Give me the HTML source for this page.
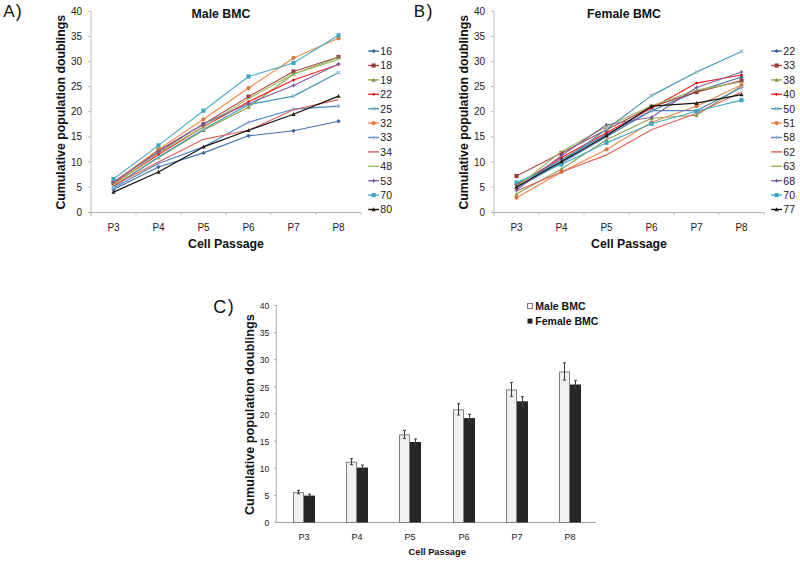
<!DOCTYPE html>
<html><head><meta charset="utf-8"><style>
html,body{margin:0;padding:0;background:#fff;}
body{width:800px;height:562px;overflow:hidden;}
svg{display:block;font-family:"Liberation Sans", sans-serif;}
.tl{font-size:10px;fill:#222;}
.xl{font-size:10px;fill:#1a1a1a;}
.tt{font-size:12.3px;font-weight:bold;fill:#111;}
.lg{font-size:10.5px;fill:#1a1a1a;}
.pl{font-size:17px;fill:#111;}
.pp{font-size:18px;fill:#111;}
.ctl{font-size:8.5px;fill:#222;}
.cxl{font-size:9px;fill:#1a1a1a;}
.ct{font-size:9.3px;font-weight:bold;fill:#111;}
.cyt{font-size:12.7px;font-weight:bold;fill:#111;}
.clg{font-size:10.5px;font-weight:bold;fill:#111;}
</style></head><body>
<svg width="800" height="562" viewBox="0 0 800 562">
<rect x="90.00" y="11" width="2" height="205" fill="#dedede"/>
<rect x="88.00" y="212" width="273.00" height="1" fill="#b2b2b2"/>
<rect x="88.00" y="211.70" width="3" height="1" fill="#b8b8b8"/>
<text x="82.00" y="215.80" text-anchor="end" class="tl">0</text>
<rect x="88.00" y="186.57" width="3" height="1" fill="#b8b8b8"/>
<text x="82.00" y="190.67" text-anchor="end" class="tl">5</text>
<rect x="88.00" y="161.45" width="3" height="1" fill="#b8b8b8"/>
<text x="82.00" y="165.55" text-anchor="end" class="tl">10</text>
<rect x="88.00" y="136.32" width="3" height="1" fill="#b8b8b8"/>
<text x="82.00" y="140.42" text-anchor="end" class="tl">15</text>
<rect x="88.00" y="111.20" width="3" height="1" fill="#b8b8b8"/>
<text x="82.00" y="115.30" text-anchor="end" class="tl">20</text>
<rect x="88.00" y="86.07" width="3" height="1" fill="#b8b8b8"/>
<text x="82.00" y="90.17" text-anchor="end" class="tl">25</text>
<rect x="88.00" y="60.95" width="3" height="1" fill="#b8b8b8"/>
<text x="82.00" y="65.05" text-anchor="end" class="tl">30</text>
<rect x="88.00" y="35.82" width="3" height="1" fill="#b8b8b8"/>
<text x="82.00" y="39.92" text-anchor="end" class="tl">35</text>
<rect x="88.00" y="10.70" width="3" height="1" fill="#b8b8b8"/>
<text x="82.00" y="14.80" text-anchor="end" class="tl">40</text>
<rect x="90.50" y="212" width="1" height="3" fill="#c0c0c0"/>
<rect x="135.50" y="212" width="1" height="3" fill="#c0c0c0"/>
<rect x="180.50" y="212" width="1" height="3" fill="#c0c0c0"/>
<rect x="225.50" y="212" width="1" height="3" fill="#c0c0c0"/>
<rect x="270.50" y="212" width="1" height="3" fill="#c0c0c0"/>
<rect x="315.50" y="212" width="1" height="3" fill="#c0c0c0"/>
<rect x="360.50" y="212" width="1" height="3" fill="#c0c0c0"/>
<text x="113.50" y="231" text-anchor="middle" class="xl">P3</text>
<text x="158.50" y="231" text-anchor="middle" class="xl">P4</text>
<text x="203.50" y="231" text-anchor="middle" class="xl">P5</text>
<text x="248.50" y="231" text-anchor="middle" class="xl">P6</text>
<text x="293.50" y="231" text-anchor="middle" class="xl">P7</text>
<text x="338.50" y="231" text-anchor="middle" class="xl">P8</text>
<text x="221.00" y="18.3" text-anchor="middle" class="tt">Male BMC</text>
<text x="226.00" y="248.2" text-anchor="middle" class="tt">Cell Passage</text>
<text transform="translate(64.60,112.20) rotate(-90)" text-anchor="middle" class="tt">Cumulative population doublings</text>
<polyline points="113.50,189.59 158.50,166.97 203.50,152.90 248.50,135.82 293.50,130.79 338.50,121.25" fill="none" stroke="#4572A7" stroke-width="1.15" stroke-linejoin="round"/>
<path d="M113.50 187.43L115.66 189.59L113.50 191.75L111.34 189.59Z" fill="#3b62a0"/>
<path d="M158.50 164.81L160.66 166.97L158.50 169.13L156.34 166.97Z" fill="#3b62a0"/>
<path d="M203.50 150.74L205.66 152.90L203.50 155.06L201.34 152.90Z" fill="#3b62a0"/>
<path d="M248.50 133.66L250.66 135.82L248.50 137.98L246.34 135.82Z" fill="#3b62a0"/>
<path d="M293.50 128.63L295.66 130.79L293.50 132.95L291.34 130.79Z" fill="#3b62a0"/>
<path d="M338.50 119.09L340.66 121.25L338.50 123.41L336.34 121.25Z" fill="#3b62a0"/>
<polyline points="113.50,183.05 158.50,150.39 203.50,124.26 248.50,96.62 293.50,71.50 338.50,56.93" fill="none" stroke="#AA4643" stroke-width="1.15" stroke-linejoin="round"/>
<rect x="111.43" y="180.98" width="4.14" height="4.14" fill="#9a3c3a"/>
<rect x="156.43" y="148.32" width="4.14" height="4.14" fill="#9a3c3a"/>
<rect x="201.43" y="122.19" width="4.14" height="4.14" fill="#9a3c3a"/>
<rect x="246.43" y="94.55" width="4.14" height="4.14" fill="#9a3c3a"/>
<rect x="291.43" y="69.43" width="4.14" height="4.14" fill="#9a3c3a"/>
<rect x="336.43" y="54.86" width="4.14" height="4.14" fill="#9a3c3a"/>
<polyline points="113.50,186.07 158.50,157.43 203.50,130.29 248.50,107.18 293.50,74.01 338.50,57.43" fill="none" stroke="#89A54E" stroke-width="1.15" stroke-linejoin="round"/>
<path d="M113.50 183.91L115.66 187.80L111.34 187.80Z" fill="#7e9a45"/>
<path d="M158.50 155.27L160.66 159.16L156.34 159.16Z" fill="#7e9a45"/>
<path d="M203.50 128.13L205.66 132.02L201.34 132.02Z" fill="#7e9a45"/>
<path d="M248.50 105.02L250.66 108.91L246.34 108.91Z" fill="#7e9a45"/>
<path d="M293.50 71.85L295.66 75.74L291.34 75.74Z" fill="#7e9a45"/>
<path d="M338.50 55.27L340.66 59.16L336.34 59.16Z" fill="#7e9a45"/>
<polyline points="113.50,184.06 158.50,154.41 203.50,126.77 248.50,101.65 293.50,80.04 338.50,64.46" fill="none" stroke="#FF2020" stroke-width="1.15" stroke-linejoin="round"/>
<path d="M113.50 182.44L115.12 184.06L113.50 185.68L111.88 184.06Z" fill="#d01010"/>
<path d="M158.50 152.79L160.12 154.41L158.50 156.03L156.88 154.41Z" fill="#d01010"/>
<path d="M203.50 125.15L205.12 126.77L203.50 128.39L201.88 126.77Z" fill="#d01010"/>
<path d="M248.50 100.03L250.12 101.65L248.50 103.27L246.88 101.65Z" fill="#d01010"/>
<path d="M293.50 78.42L295.12 80.04L293.50 81.66L291.88 80.04Z" fill="#d01010"/>
<path d="M338.50 62.84L340.12 64.46L338.50 66.08L336.88 64.46Z" fill="#d01010"/>
<polyline points="113.50,187.07 158.50,156.92 203.50,129.29 248.50,104.66 293.50,96.12 338.50,72.50" fill="none" stroke="#4596B0" stroke-width="1.15" stroke-linejoin="round"/>
<path d="M111.88 185.45L115.12 188.69M115.12 185.45L111.88 188.69" stroke="#8fbccc" stroke-width="1.2"/>
<path d="M156.88 155.30L160.12 158.54M160.12 155.30L156.88 158.54" stroke="#8fbccc" stroke-width="1.2"/>
<path d="M201.88 127.67L205.12 130.91M205.12 127.67L201.88 130.91" stroke="#8fbccc" stroke-width="1.2"/>
<path d="M246.88 103.04L250.12 106.28M250.12 103.04L246.88 106.28" stroke="#8fbccc" stroke-width="1.2"/>
<path d="M291.88 94.50L295.12 97.74M295.12 94.50L291.88 97.74" stroke="#8fbccc" stroke-width="1.2"/>
<path d="M336.88 70.88L340.12 74.12M340.12 70.88L336.88 74.12" stroke="#8fbccc" stroke-width="1.2"/>
<polyline points="113.50,182.55 158.50,149.39 203.50,119.24 248.50,88.08 293.50,57.93 338.50,38.33" fill="none" stroke="#EE8A45" stroke-width="1.15" stroke-linejoin="round"/>
<circle cx="113.50" cy="182.55" r="2.07" fill="#d8783a"/>
<circle cx="158.50" cy="149.39" r="2.07" fill="#d8783a"/>
<circle cx="203.50" cy="119.24" r="2.07" fill="#d8783a"/>
<circle cx="248.50" cy="88.08" r="2.07" fill="#d8783a"/>
<circle cx="293.50" cy="57.93" r="2.07" fill="#d8783a"/>
<circle cx="338.50" cy="38.33" r="2.07" fill="#d8783a"/>
<polyline points="113.50,188.08 158.50,163.46 203.50,146.88 248.50,122.25 293.50,109.19 338.50,106.17" fill="none" stroke="#4F82C8" stroke-width="1.15" stroke-linejoin="round"/>
<path d="M113.50 186.28L113.50 189.88M111.70 188.08L115.30 188.08" stroke="#86a9da" stroke-width="1.2"/>
<path d="M158.50 161.66L158.50 165.26M156.70 163.46L160.30 163.46" stroke="#86a9da" stroke-width="1.2"/>
<path d="M203.50 145.07L203.50 148.68M201.70 146.88L205.30 146.88" stroke="#86a9da" stroke-width="1.2"/>
<path d="M248.50 120.45L248.50 124.05M246.70 122.25L250.30 122.25" stroke="#86a9da" stroke-width="1.2"/>
<path d="M293.50 107.39L293.50 110.99M291.70 109.19L295.30 109.19" stroke="#86a9da" stroke-width="1.2"/>
<path d="M338.50 104.37L338.50 107.97M336.70 106.17L340.30 106.17" stroke="#86a9da" stroke-width="1.2"/>
<polyline points="113.50,185.57 158.50,161.95 203.50,139.34 248.50,130.29 293.50,109.69 338.50,99.64" fill="none" stroke="#E0605C" stroke-width="1.15" stroke-linejoin="round"/>






<polyline points="113.50,185.06 158.50,152.90 203.50,126.77 248.50,98.63 293.50,74.01 338.50,59.44" fill="none" stroke="#9BBB59" stroke-width="1.15" stroke-linejoin="round"/>






<polyline points="113.50,182.05 158.50,151.90 203.50,123.76 248.50,103.66 293.50,85.57 338.50,63.96" fill="none" stroke="#8064A2" stroke-width="1.15" stroke-linejoin="round"/>
<path d="M113.50 180.25L113.50 183.85M111.70 182.05L115.30 182.05" stroke="#7052a0" stroke-width="1.2"/>
<path d="M158.50 150.10L158.50 153.70M156.70 151.90L160.30 151.90" stroke="#7052a0" stroke-width="1.2"/>
<path d="M203.50 121.96L203.50 125.56M201.70 123.76L205.30 123.76" stroke="#7052a0" stroke-width="1.2"/>
<path d="M248.50 101.86L248.50 105.46M246.70 103.66L250.30 103.66" stroke="#7052a0" stroke-width="1.2"/>
<path d="M293.50 83.77L293.50 87.37M291.70 85.57L295.30 85.57" stroke="#7052a0" stroke-width="1.2"/>
<path d="M338.50 62.16L338.50 65.76M336.70 63.96L340.30 63.96" stroke="#7052a0" stroke-width="1.2"/>
<polyline points="113.50,179.03 158.50,145.37 203.50,110.69 248.50,76.52 293.50,62.96 338.50,35.32" fill="none" stroke="#4BACC6" stroke-width="1.15" stroke-linejoin="round"/>
<rect x="111.43" y="176.97" width="4.14" height="4.14" fill="#3fa6c2"/>
<rect x="156.43" y="143.30" width="4.14" height="4.14" fill="#3fa6c2"/>
<rect x="201.43" y="108.62" width="4.14" height="4.14" fill="#3fa6c2"/>
<rect x="246.43" y="74.45" width="4.14" height="4.14" fill="#3fa6c2"/>
<rect x="291.43" y="60.89" width="4.14" height="4.14" fill="#3fa6c2"/>
<rect x="336.43" y="33.25" width="4.14" height="4.14" fill="#3fa6c2"/>
<polyline points="113.50,192.10 158.50,172.00 203.50,146.88 248.50,130.29 293.50,114.21 338.50,96.12" fill="none" stroke="#111111" stroke-width="1.15" stroke-linejoin="round"/>
<path d="M113.50 189.94L115.66 193.83L111.34 193.83Z" fill="#302010"/>
<path d="M158.50 169.84L160.66 173.73L156.34 173.73Z" fill="#302010"/>
<path d="M203.50 144.72L205.66 148.60L201.34 148.60Z" fill="#302010"/>
<path d="M248.50 128.13L250.66 132.02L246.34 132.02Z" fill="#302010"/>
<path d="M293.50 112.05L295.66 115.94L291.34 115.94Z" fill="#302010"/>
<path d="M338.50 93.96L340.66 97.85L336.34 97.85Z" fill="#302010"/>
<rect x="368.20" y="50.40" width="10.8" height="1.4" fill="#4572A7"/>
<path d="M373.60 48.94L375.76 51.10L373.60 53.26L371.44 51.10Z" fill="#3b62a0"/>
<text x="380.30" y="55.00" class="lg">16</text>
<rect x="368.20" y="64.80" width="10.8" height="1.4" fill="#AA4643"/>
<rect x="371.53" y="63.43" width="4.14" height="4.14" fill="#9a3c3a"/>
<text x="380.30" y="69.40" class="lg">18</text>
<rect x="368.20" y="79.20" width="10.8" height="1.4" fill="#89A54E"/>
<path d="M373.60 77.74L375.76 81.63L371.44 81.63Z" fill="#7e9a45"/>
<text x="380.30" y="83.80" class="lg">19</text>
<rect x="368.20" y="93.60" width="10.8" height="1.4" fill="#FF2020"/>
<path d="M373.60 92.68L375.22 94.30L373.60 95.92L371.98 94.30Z" fill="#d01010"/>
<text x="380.30" y="98.20" class="lg">22</text>
<rect x="368.20" y="108.00" width="10.8" height="1.4" fill="#4596B0"/>
<path d="M371.98 107.08L375.22 110.32M375.22 107.08L371.98 110.32" stroke="#8fbccc" stroke-width="1.2"/>
<text x="380.30" y="112.60" class="lg">25</text>
<rect x="368.20" y="122.40" width="10.8" height="1.4" fill="#EE8A45"/>
<circle cx="373.60" cy="123.10" r="2.07" fill="#d8783a"/>
<text x="380.30" y="127.00" class="lg">32</text>
<rect x="368.20" y="136.80" width="10.8" height="1.4" fill="#4F82C8"/>
<path d="M373.60 135.70L373.60 139.30M371.80 137.50L375.40 137.50" stroke="#86a9da" stroke-width="1.2"/>
<text x="380.30" y="141.40" class="lg">33</text>
<rect x="368.20" y="151.20" width="10.8" height="1.4" fill="#E0605C"/>

<text x="380.30" y="155.80" class="lg">34</text>
<rect x="368.20" y="165.60" width="10.8" height="1.4" fill="#9BBB59"/>

<text x="380.30" y="170.20" class="lg">48</text>
<rect x="368.20" y="180.00" width="10.8" height="1.4" fill="#8064A2"/>
<path d="M373.60 178.90L373.60 182.50M371.80 180.70L375.40 180.70" stroke="#7052a0" stroke-width="1.2"/>
<text x="380.30" y="184.60" class="lg">53</text>
<rect x="368.20" y="194.40" width="10.8" height="1.4" fill="#4BACC6"/>
<rect x="371.53" y="193.03" width="4.14" height="4.14" fill="#3fa6c2"/>
<text x="380.30" y="199.00" class="lg">70</text>
<rect x="368.20" y="208.80" width="10.8" height="1.4" fill="#111111"/>
<path d="M373.60 207.34L375.76 211.23L371.44 211.23Z" fill="#302010"/>
<text x="380.30" y="213.40" class="lg">80</text>
<rect x="493.00" y="11" width="2" height="205" fill="#dedede"/>
<rect x="491.00" y="212" width="273.00" height="1" fill="#b2b2b2"/>
<rect x="491.00" y="211.70" width="3" height="1" fill="#b8b8b8"/>
<text x="485.00" y="215.80" text-anchor="end" class="tl">0</text>
<rect x="491.00" y="186.57" width="3" height="1" fill="#b8b8b8"/>
<text x="485.00" y="190.67" text-anchor="end" class="tl">5</text>
<rect x="491.00" y="161.45" width="3" height="1" fill="#b8b8b8"/>
<text x="485.00" y="165.55" text-anchor="end" class="tl">10</text>
<rect x="491.00" y="136.32" width="3" height="1" fill="#b8b8b8"/>
<text x="485.00" y="140.42" text-anchor="end" class="tl">15</text>
<rect x="491.00" y="111.20" width="3" height="1" fill="#b8b8b8"/>
<text x="485.00" y="115.30" text-anchor="end" class="tl">20</text>
<rect x="491.00" y="86.07" width="3" height="1" fill="#b8b8b8"/>
<text x="485.00" y="90.17" text-anchor="end" class="tl">25</text>
<rect x="491.00" y="60.95" width="3" height="1" fill="#b8b8b8"/>
<text x="485.00" y="65.05" text-anchor="end" class="tl">30</text>
<rect x="491.00" y="35.82" width="3" height="1" fill="#b8b8b8"/>
<text x="485.00" y="39.92" text-anchor="end" class="tl">35</text>
<rect x="491.00" y="10.70" width="3" height="1" fill="#b8b8b8"/>
<text x="485.00" y="14.80" text-anchor="end" class="tl">40</text>
<rect x="493.50" y="212" width="1" height="3" fill="#c0c0c0"/>
<rect x="538.50" y="212" width="1" height="3" fill="#c0c0c0"/>
<rect x="583.50" y="212" width="1" height="3" fill="#c0c0c0"/>
<rect x="628.50" y="212" width="1" height="3" fill="#c0c0c0"/>
<rect x="673.50" y="212" width="1" height="3" fill="#c0c0c0"/>
<rect x="718.50" y="212" width="1" height="3" fill="#c0c0c0"/>
<rect x="763.50" y="212" width="1" height="3" fill="#c0c0c0"/>
<text x="516.50" y="231" text-anchor="middle" class="xl">P3</text>
<text x="561.50" y="231" text-anchor="middle" class="xl">P4</text>
<text x="606.50" y="231" text-anchor="middle" class="xl">P5</text>
<text x="651.50" y="231" text-anchor="middle" class="xl">P6</text>
<text x="696.50" y="231" text-anchor="middle" class="xl">P7</text>
<text x="741.50" y="231" text-anchor="middle" class="xl">P8</text>
<text x="624.00" y="18.3" text-anchor="middle" class="tt">Female BMC</text>
<text x="629.00" y="248.2" text-anchor="middle" class="tt">Cell Passage</text>
<text transform="translate(467.60,112.20) rotate(-90)" text-anchor="middle" class="tt">Cumulative population doublings</text>
<polyline points="516.50,184.56 561.50,159.44 606.50,134.31 651.50,110.69 696.50,91.60 741.50,77.03" fill="none" stroke="#4572A7" stroke-width="1.15" stroke-linejoin="round"/>
<path d="M516.50 182.40L518.66 184.56L516.50 186.72L514.34 184.56Z" fill="#3b62a0"/>
<path d="M561.50 157.28L563.66 159.44L561.50 161.60L559.34 159.44Z" fill="#3b62a0"/>
<path d="M606.50 132.15L608.66 134.31L606.50 136.47L604.34 134.31Z" fill="#3b62a0"/>
<path d="M651.50 108.53L653.66 110.69L651.50 112.85L649.34 110.69Z" fill="#3b62a0"/>
<path d="M696.50 89.44L698.66 91.60L696.50 93.76L694.34 91.60Z" fill="#3b62a0"/>
<path d="M741.50 74.87L743.66 77.03L741.50 79.19L739.34 77.03Z" fill="#3b62a0"/>
<polyline points="516.50,176.02 561.50,152.90 606.50,129.79 651.50,106.67 696.50,92.10 741.50,80.54" fill="none" stroke="#AA4643" stroke-width="1.15" stroke-linejoin="round"/>
<rect x="514.43" y="173.95" width="4.14" height="4.14" fill="#9a3c3a"/>
<rect x="559.43" y="150.83" width="4.14" height="4.14" fill="#9a3c3a"/>
<rect x="604.43" y="127.72" width="4.14" height="4.14" fill="#9a3c3a"/>
<rect x="649.43" y="104.60" width="4.14" height="4.14" fill="#9a3c3a"/>
<rect x="694.43" y="90.03" width="4.14" height="4.14" fill="#9a3c3a"/>
<rect x="739.43" y="78.47" width="4.14" height="4.14" fill="#9a3c3a"/>
<polyline points="516.50,194.11 561.50,168.98 606.50,139.84 651.50,118.23 696.50,115.22 741.50,86.07" fill="none" stroke="#89A54E" stroke-width="1.15" stroke-linejoin="round"/>
<path d="M516.50 191.95L518.66 195.84L514.34 195.84Z" fill="#7e9a45"/>
<path d="M561.50 166.82L563.66 170.71L559.34 170.71Z" fill="#7e9a45"/>
<path d="M606.50 137.68L608.66 141.57L604.34 141.57Z" fill="#7e9a45"/>
<path d="M651.50 116.07L653.66 119.96L649.34 119.96Z" fill="#7e9a45"/>
<path d="M696.50 113.06L698.66 116.95L694.34 116.95Z" fill="#7e9a45"/>
<path d="M741.50 83.91L743.66 87.80L739.34 87.80Z" fill="#7e9a45"/>
<polyline points="516.50,185.57 561.50,157.43 606.50,132.80 651.50,108.18 696.50,83.06 741.50,75.02" fill="none" stroke="#FF2020" stroke-width="1.15" stroke-linejoin="round"/>
<path d="M516.50 183.95L518.12 185.57L516.50 187.19L514.88 185.57Z" fill="#d01010"/>
<path d="M561.50 155.81L563.12 157.43L561.50 159.05L559.88 157.43Z" fill="#d01010"/>
<path d="M606.50 131.18L608.12 132.80L606.50 134.42L604.88 132.80Z" fill="#d01010"/>
<path d="M651.50 106.56L653.12 108.18L651.50 109.80L649.88 108.18Z" fill="#d01010"/>
<path d="M696.50 81.44L698.12 83.06L696.50 84.68L694.88 83.06Z" fill="#d01010"/>
<path d="M741.50 73.40L743.12 75.02L741.50 76.64L739.88 75.02Z" fill="#d01010"/>
<polyline points="516.50,183.05 561.50,161.95 606.50,129.29 651.50,95.62 696.50,72.00 741.50,51.40" fill="none" stroke="#4596B0" stroke-width="1.15" stroke-linejoin="round"/>
<path d="M514.88 181.43L518.12 184.67M518.12 181.43L514.88 184.67" stroke="#8fbccc" stroke-width="1.2"/>
<path d="M559.88 160.33L563.12 163.57M563.12 160.33L559.88 163.57" stroke="#8fbccc" stroke-width="1.2"/>
<path d="M604.88 127.67L608.12 130.91M608.12 127.67L604.88 130.91" stroke="#8fbccc" stroke-width="1.2"/>
<path d="M649.88 94.00L653.12 97.24M653.12 94.00L649.88 97.24" stroke="#8fbccc" stroke-width="1.2"/>
<path d="M694.88 70.38L698.12 73.62M698.12 70.38L694.88 73.62" stroke="#8fbccc" stroke-width="1.2"/>
<path d="M739.88 49.78L743.12 53.02M743.12 49.78L739.88 53.02" stroke="#8fbccc" stroke-width="1.2"/>
<polyline points="516.50,197.63 561.50,172.00 606.50,149.39 651.50,122.25 696.50,106.17 741.50,85.07" fill="none" stroke="#EE8A45" stroke-width="1.15" stroke-linejoin="round"/>
<circle cx="516.50" cy="197.63" r="2.07" fill="#d8783a"/>
<circle cx="561.50" cy="172.00" r="2.07" fill="#d8783a"/>
<circle cx="606.50" cy="149.39" r="2.07" fill="#d8783a"/>
<circle cx="651.50" cy="122.25" r="2.07" fill="#d8783a"/>
<circle cx="696.50" cy="106.17" r="2.07" fill="#d8783a"/>
<circle cx="741.50" cy="85.07" r="2.07" fill="#d8783a"/>
<polyline points="516.50,188.08 561.50,162.95 606.50,136.82 651.50,110.69 696.50,110.69 741.50,87.58" fill="none" stroke="#4F82C8" stroke-width="1.15" stroke-linejoin="round"/>
<path d="M516.50 186.28L516.50 189.88M514.70 188.08L518.30 188.08" stroke="#86a9da" stroke-width="1.2"/>
<path d="M561.50 161.15L561.50 164.75M559.70 162.95L563.30 162.95" stroke="#86a9da" stroke-width="1.2"/>
<path d="M606.50 135.02L606.50 138.62M604.70 136.82L608.30 136.82" stroke="#86a9da" stroke-width="1.2"/>
<path d="M651.50 108.89L651.50 112.49M649.70 110.69L653.30 110.69" stroke="#86a9da" stroke-width="1.2"/>
<path d="M696.50 108.89L696.50 112.49M694.70 110.69L698.30 110.69" stroke="#86a9da" stroke-width="1.2"/>
<path d="M741.50 85.78L741.50 89.38M739.70 87.58L743.30 87.58" stroke="#86a9da" stroke-width="1.2"/>
<polyline points="516.50,191.09 561.50,172.00 606.50,154.91 651.50,129.79 696.50,113.21 741.50,92.10" fill="none" stroke="#E0605C" stroke-width="1.15" stroke-linejoin="round"/>






<polyline points="516.50,187.07 561.50,151.40 606.50,126.77 651.50,105.67 696.50,90.09 741.50,82.05" fill="none" stroke="#9BBB59" stroke-width="1.15" stroke-linejoin="round"/>






<polyline points="516.50,190.09 561.50,155.42 606.50,124.76 651.50,117.23 696.50,87.58 741.50,72.00" fill="none" stroke="#8064A2" stroke-width="1.15" stroke-linejoin="round"/>
<path d="M516.50 188.29L516.50 191.89M514.70 190.09L518.30 190.09" stroke="#7052a0" stroke-width="1.2"/>
<path d="M561.50 153.62L561.50 157.22M559.70 155.42L563.30 155.42" stroke="#7052a0" stroke-width="1.2"/>
<path d="M606.50 122.96L606.50 126.56M604.70 124.76L608.30 124.76" stroke="#7052a0" stroke-width="1.2"/>
<path d="M651.50 115.43L651.50 119.03M649.70 117.23L653.30 117.23" stroke="#7052a0" stroke-width="1.2"/>
<path d="M696.50 85.78L696.50 89.38M694.70 87.58L698.30 87.58" stroke="#7052a0" stroke-width="1.2"/>
<path d="M741.50 70.20L741.50 73.80M739.70 72.00L743.30 72.00" stroke="#7052a0" stroke-width="1.2"/>
<polyline points="516.50,182.55 561.50,164.46 606.50,142.85 651.50,123.76 696.50,111.20 741.50,100.14" fill="none" stroke="#4BACC6" stroke-width="1.15" stroke-linejoin="round"/>
<rect x="514.43" y="180.48" width="4.14" height="4.14" fill="#3fa6c2"/>
<rect x="559.43" y="162.39" width="4.14" height="4.14" fill="#3fa6c2"/>
<rect x="604.43" y="140.78" width="4.14" height="4.14" fill="#3fa6c2"/>
<rect x="649.43" y="121.69" width="4.14" height="4.14" fill="#3fa6c2"/>
<rect x="694.43" y="109.13" width="4.14" height="4.14" fill="#3fa6c2"/>
<rect x="739.43" y="98.07" width="4.14" height="4.14" fill="#3fa6c2"/>
<polyline points="516.50,187.07 561.50,161.45 606.50,135.82 651.50,106.17 696.50,103.16 741.50,94.61" fill="none" stroke="#111111" stroke-width="1.15" stroke-linejoin="round"/>
<path d="M516.50 184.91L518.66 188.80L514.34 188.80Z" fill="#302010"/>
<path d="M561.50 159.29L563.66 163.18L559.34 163.18Z" fill="#302010"/>
<path d="M606.50 133.66L608.66 137.55L604.34 137.55Z" fill="#302010"/>
<path d="M651.50 104.01L653.66 107.90L649.34 107.90Z" fill="#302010"/>
<path d="M696.50 101.00L698.66 104.89L694.34 104.89Z" fill="#302010"/>
<path d="M741.50 92.45L743.66 96.34L739.34 96.34Z" fill="#302010"/>
<rect x="771.20" y="50.40" width="10.8" height="1.4" fill="#4572A7"/>
<path d="M776.60 48.94L778.76 51.10L776.60 53.26L774.44 51.10Z" fill="#3b62a0"/>
<text x="783.30" y="55.00" class="lg">22</text>
<rect x="771.20" y="64.80" width="10.8" height="1.4" fill="#AA4643"/>
<rect x="774.53" y="63.43" width="4.14" height="4.14" fill="#9a3c3a"/>
<text x="783.30" y="69.40" class="lg">33</text>
<rect x="771.20" y="79.20" width="10.8" height="1.4" fill="#89A54E"/>
<path d="M776.60 77.74L778.76 81.63L774.44 81.63Z" fill="#7e9a45"/>
<text x="783.30" y="83.80" class="lg">38</text>
<rect x="771.20" y="93.60" width="10.8" height="1.4" fill="#FF2020"/>
<path d="M776.60 92.68L778.22 94.30L776.60 95.92L774.98 94.30Z" fill="#d01010"/>
<text x="783.30" y="98.20" class="lg">40</text>
<rect x="771.20" y="108.00" width="10.8" height="1.4" fill="#4596B0"/>
<path d="M774.98 107.08L778.22 110.32M778.22 107.08L774.98 110.32" stroke="#8fbccc" stroke-width="1.2"/>
<text x="783.30" y="112.60" class="lg">50</text>
<rect x="771.20" y="122.40" width="10.8" height="1.4" fill="#EE8A45"/>
<circle cx="776.60" cy="123.10" r="2.07" fill="#d8783a"/>
<text x="783.30" y="127.00" class="lg">51</text>
<rect x="771.20" y="136.80" width="10.8" height="1.4" fill="#4F82C8"/>
<path d="M776.60 135.70L776.60 139.30M774.80 137.50L778.40 137.50" stroke="#86a9da" stroke-width="1.2"/>
<text x="783.30" y="141.40" class="lg">58</text>
<rect x="771.20" y="151.20" width="10.8" height="1.4" fill="#E0605C"/>

<text x="783.30" y="155.80" class="lg">62</text>
<rect x="771.20" y="165.60" width="10.8" height="1.4" fill="#9BBB59"/>

<text x="783.30" y="170.20" class="lg">63</text>
<rect x="771.20" y="180.00" width="10.8" height="1.4" fill="#8064A2"/>
<path d="M776.60 178.90L776.60 182.50M774.80 180.70L778.40 180.70" stroke="#7052a0" stroke-width="1.2"/>
<text x="783.30" y="184.60" class="lg">68</text>
<rect x="771.20" y="194.40" width="10.8" height="1.4" fill="#4BACC6"/>
<rect x="774.53" y="193.03" width="4.14" height="4.14" fill="#3fa6c2"/>
<text x="783.30" y="199.00" class="lg">70</text>
<rect x="771.20" y="208.80" width="10.8" height="1.4" fill="#111111"/>
<path d="M776.60 207.34L778.76 211.23L774.44 211.23Z" fill="#302010"/>
<text x="783.30" y="213.40" class="lg">77</text>
<rect x="275.80" y="305" width="1" height="218" fill="#b0b0b0"/>
<rect x="276.30" y="522" width="319.80" height="1" fill="#a0a0a0"/>
<rect x="273.80" y="522.00" width="2.5" height="1" fill="#b0b0b0"/>
<text x="269.30" y="525.50" text-anchor="end" class="ctl" dy="0.7">0</text>
<rect x="273.80" y="494.88" width="2.5" height="1" fill="#b0b0b0"/>
<text x="269.30" y="498.38" text-anchor="end" class="ctl" dy="0.7">5</text>
<rect x="273.80" y="467.75" width="2.5" height="1" fill="#b0b0b0"/>
<text x="269.30" y="471.25" text-anchor="end" class="ctl" dy="0.7">10</text>
<rect x="273.80" y="440.62" width="2.5" height="1" fill="#b0b0b0"/>
<text x="269.30" y="444.12" text-anchor="end" class="ctl" dy="0.7">15</text>
<rect x="273.80" y="413.50" width="2.5" height="1" fill="#b0b0b0"/>
<text x="269.30" y="417.00" text-anchor="end" class="ctl" dy="0.7">20</text>
<rect x="273.80" y="386.38" width="2.5" height="1" fill="#b0b0b0"/>
<text x="269.30" y="389.88" text-anchor="end" class="ctl" dy="0.7">25</text>
<rect x="273.80" y="359.25" width="2.5" height="1" fill="#b0b0b0"/>
<text x="269.30" y="362.75" text-anchor="end" class="ctl" dy="0.7">30</text>
<rect x="273.80" y="332.12" width="2.5" height="1" fill="#b0b0b0"/>
<text x="269.30" y="335.62" text-anchor="end" class="ctl" dy="0.7">35</text>
<rect x="273.80" y="305.00" width="2.5" height="1" fill="#b0b0b0"/>
<text x="269.30" y="308.50" text-anchor="end" class="ctl" dy="0.7">40</text>
<rect x="293.50" y="492.60" width="10.00" height="29.90" fill="#f0f0f0" stroke="#808080" stroke-width="1"/>
<rect x="304.00" y="495.60" width="11.00" height="26.90" fill="#262626"/>
<path d="M298.50 490.40V493.80M297.00 490.40H300.00M297.00 493.80H300.00" stroke="#3a3a3a" stroke-width="1" fill="none"/>
<path d="M309.50 494.10V497.10M308.00 494.10H311.00M308.00 497.10H311.00" stroke="#3a3a3a" stroke-width="1" fill="none"/>
<text x="304.00" y="539.80" text-anchor="middle" class="cxl">P3</text>
<rect x="346.50" y="462.20" width="10.00" height="60.30" fill="#f0f0f0" stroke="#808080" stroke-width="1"/>
<rect x="357.00" y="467.60" width="11.00" height="54.90" fill="#262626"/>
<path d="M351.50 458.70V464.70M350.00 458.70H353.00M350.00 464.70H353.00" stroke="#3a3a3a" stroke-width="1" fill="none"/>
<path d="M362.50 465.10V470.10M361.00 465.10H364.00M361.00 470.10H364.00" stroke="#3a3a3a" stroke-width="1" fill="none"/>
<text x="357.00" y="539.80" text-anchor="middle" class="cxl">P4</text>
<rect x="399.50" y="434.90" width="10.00" height="87.60" fill="#f0f0f0" stroke="#808080" stroke-width="1"/>
<rect x="410.00" y="442.00" width="11.00" height="80.50" fill="#262626"/>
<path d="M404.50 430.40V438.40M403.00 430.40H406.00M403.00 438.40H406.00" stroke="#3a3a3a" stroke-width="1" fill="none"/>
<path d="M415.50 439.00V445.00M414.00 439.00H417.00M414.00 445.00H417.00" stroke="#3a3a3a" stroke-width="1" fill="none"/>
<text x="410.00" y="539.80" text-anchor="middle" class="cxl">P5</text>
<rect x="453.50" y="409.90" width="10.00" height="112.60" fill="#f0f0f0" stroke="#808080" stroke-width="1"/>
<rect x="464.00" y="418.10" width="11.00" height="104.40" fill="#262626"/>
<path d="M458.50 403.80V415.00M457.00 403.80H460.00M457.00 415.00H460.00" stroke="#3a3a3a" stroke-width="1" fill="none"/>
<path d="M469.50 414.30V421.90M468.00 414.30H471.00M468.00 421.90H471.00" stroke="#3a3a3a" stroke-width="1" fill="none"/>
<text x="464.00" y="539.80" text-anchor="middle" class="cxl">P6</text>
<rect x="506.50" y="389.90" width="10.00" height="132.60" fill="#f0f0f0" stroke="#808080" stroke-width="1"/>
<rect x="517.00" y="401.30" width="11.00" height="121.20" fill="#262626"/>
<path d="M511.50 382.40V396.40M510.00 382.40H513.00M510.00 396.40H513.00" stroke="#3a3a3a" stroke-width="1" fill="none"/>
<path d="M522.50 396.70V405.90M521.00 396.70H524.00M521.00 405.90H524.00" stroke="#3a3a3a" stroke-width="1" fill="none"/>
<text x="517.00" y="539.80" text-anchor="middle" class="cxl">P7</text>
<rect x="559.50" y="372.00" width="10.00" height="150.50" fill="#f0f0f0" stroke="#808080" stroke-width="1"/>
<rect x="570.00" y="384.50" width="11.00" height="138.00" fill="#262626"/>
<path d="M564.50 362.90V380.10M563.00 362.90H566.00M563.00 380.10H566.00" stroke="#3a3a3a" stroke-width="1" fill="none"/>
<path d="M575.50 380.30V388.70M574.00 380.30H577.00M574.00 388.70H577.00" stroke="#3a3a3a" stroke-width="1" fill="none"/>
<text x="570.00" y="539.80" text-anchor="middle" class="cxl">P8</text>
<text x="437.2" y="554.8" text-anchor="middle" class="ct">Cell Passage</text>
<text transform="translate(254.3,414.6) rotate(-90)" text-anchor="middle" class="cyt">Cumulative population doublings</text>
<rect x="527.5" y="303.5" width="5" height="5" fill="#fff" stroke="#777" stroke-width="1"/>
<text x="535.3" y="310.1" class="clg">Male BMC</text>
<rect x="527.5" y="318.6" width="5" height="5" fill="#222"/>
<text x="535.3" y="325.4" class="clg">Female BMC</text>
<text x="3.2" y="17.4" class="pl">A</text><text x="15.7" y="17.4" class="pp">)</text>
<text x="413.7" y="17.4" class="pl">B</text><text x="426.6" y="17.4" class="pp">)</text>
<text x="213.3" y="312.5" class="pl" style="font-size:18px">C</text><text x="227.8" y="312.4" class="pp">)</text>
</svg>
</body></html>
